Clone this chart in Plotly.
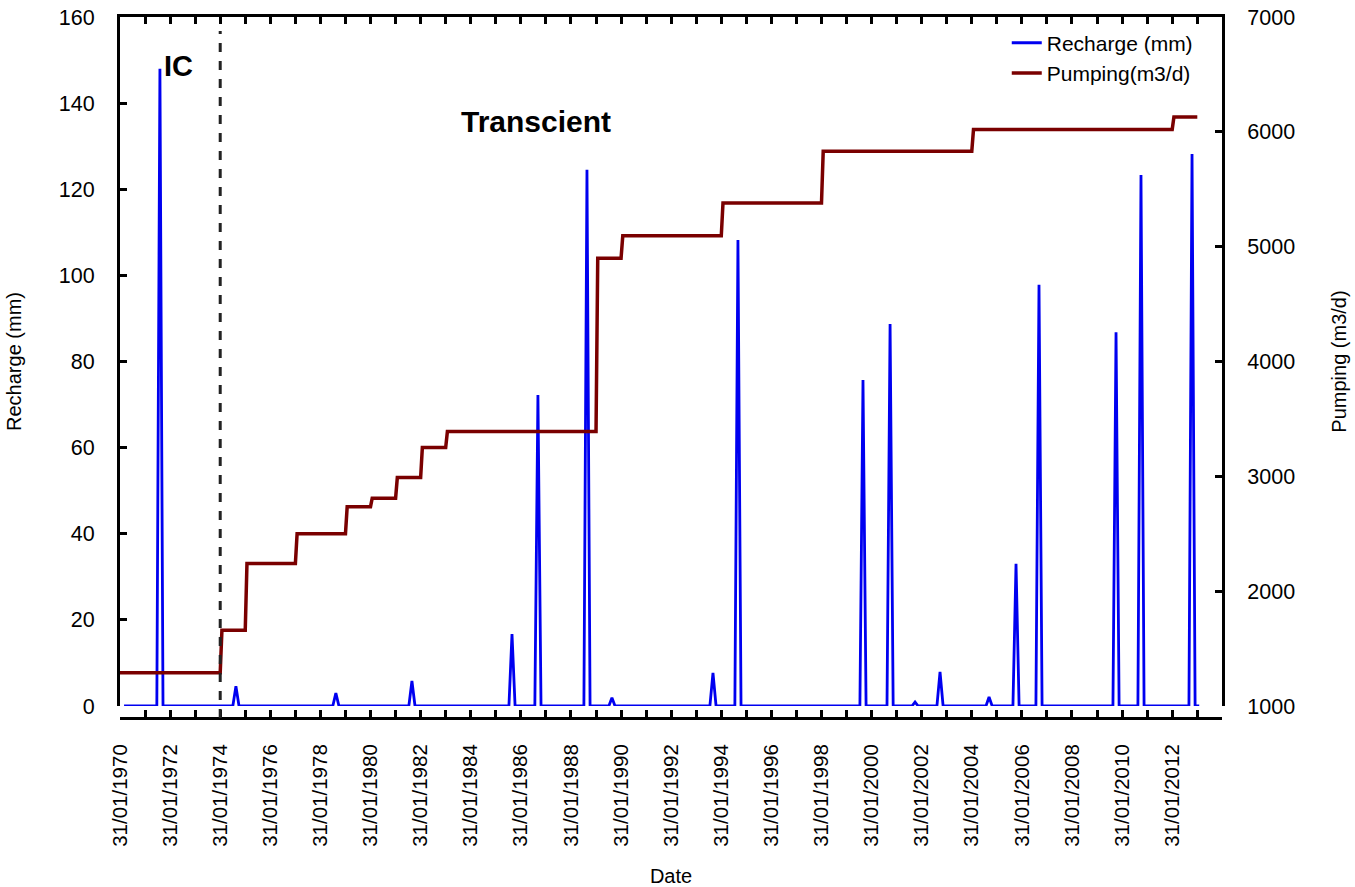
import plotly.graph_objects as go
import pandas as pd

# ---- data ----
rech_start = "1970-03-31"
rech_end = "2013-02-28"
peak_dates = ["1971-09-05", "1974-09-17", "1978-09-13", "1981-09-26", "1985-09-24",
              "1986-10-07", "1988-09-21", "1989-09-20", "1993-10-02", "1994-10-01",
              "1999-09-28", "2000-10-27", "2001-10-26", "2002-10-25", "2004-10-09",
              "2005-11-06", "2006-10-07", "2009-11-03", "2010-11-02", "2012-11-15"]
peak_values = [148.0, 4.6, 3.0, 5.8, 16.7,
               72.2, 124.5, 1.9, 7.7, 108.2,
               75.7, 88.7, 0.9, 7.9, 2.1,
               33.0, 97.8, 86.8, 123.3, 128.2]

pump_dates = ["1970-01-31", "1974-01-31", "1975-01-31", "1977-01-31", "1979-01-31",
              "1980-01-31", "1981-01-31", "1982-01-31", "1983-01-31", "1989-01-31",
              "1990-01-31", "1994-01-31", "1998-01-31", "2004-01-31", "2012-01-31"]
pump_levels = [1290, 1660, 2240, 2500, 2735,
               2810, 2990, 3250, 3390, 4900,
               5095, 5380, 5830, 6020, 6130]
pump_end = "2013-01-31"

# ---- build line coordinates from the arrays ----
rx, ry = [pd.Timestamp(rech_start)], [0.0]
for d, v in zip(peak_dates, peak_values):
    t = pd.Timestamp(d)
    rx += [t - pd.Timedelta(days=45), t, t + pd.Timedelta(days=45)]
    ry += [0.0, v, 0.0]
rx.append(pd.Timestamp(rech_end)); ry.append(0.0)

px_, py_ = [pd.Timestamp(pump_dates[0])], [pump_levels[0]]
for i in range(1, len(pump_dates)):
    t = pd.Timestamp(pump_dates[i])
    px_ += [t, t + pd.Timedelta(days=25)]
    py_ += [pump_levels[i - 1], pump_levels[i]]
px_.append(pd.Timestamp(pump_end)); py_.append(pump_levels[-1])

FONT = "Liberation Sans, Arial, sans-serif"

fig = go.Figure()
fig.add_trace(go.Scatter(x=rx, y=ry, mode="lines", name="Recharge (mm)",
                         line=dict(color="#0000F0", width=2.8)))
fig.add_trace(go.Scatter(x=px_, y=py_, mode="lines", name="Pumping(m3/d)",
                         line=dict(color="#7A0000", width=3.5), yaxis="y2"))
# helper trace so the top frame axis is drawn
fig.add_trace(go.Scatter(x=[pump_dates[0]], y=[None], xaxis="x2", yaxis="y",
                         showlegend=False, hoverinfo="skip", mode="lines"))

tick_common = dict(ticks="inside", ticklen=7, tickwidth=2.5, tickcolor="black",
                   showline=True, linecolor="black", linewidth=3,
                   showgrid=False, zeroline=False, automargin=False)

xr = ["1970-01-31", "2014-01-26"]
fig.update_layout(
    width=1355, height=887,
    margin=dict(l=120, r=133, t=17, b=169),
    paper_bgcolor="white", plot_bgcolor="white",
    font=dict(family=FONT, size=20, color="black"),
    xaxis=dict(type="date", range=xr, anchor="free", position=0,
               tick0="1970-01-31", dtick="M24", tickformat="%d/%m/%Y",
               tickangle=-90, ticklabelstandoff=16, tickfont=dict(size=20.5),
               minor=dict(tick0="1970-01-31", dtick="M12", ticks="inside",
                          ticklen=7, tickwidth=2.5, tickcolor="black"),
               title=dict(text="Date", font=dict(size=20), standoff=32),
               **tick_common),
    xaxis2=dict(type="date", range=xr, overlaying="x", matches="x", side="top",
                anchor="y", showticklabels=False,
                tick0="1970-01-31", dtick="M12", **tick_common),
    yaxis=dict(domain=[12 / 701, 1], range=[0, 160], dtick=20, anchor="x",
               ticklabelstandoff=18, tickfont=dict(size=21.5),
               title=dict(text="Recharge (mm)", font=dict(size=20), standoff=32),
               **tick_common),
    yaxis2=dict(domain=[12 / 701, 1], range=[1000, 7000], dtick=1000,
                overlaying="y", side="right", anchor="x", ticklabelstandoff=18,
                tickfont=dict(size=21.5),
                title=dict(text="Pumping (m3/d)", font=dict(size=20), standoff=38),
                **tick_common),
    legend=dict(x=0.978, xanchor="right", y=0.992, yanchor="top",
                bgcolor="rgba(0,0,0,0)", font=dict(size=21),
                tracegroupgap=0, itemwidth=30),
    showlegend=True,
)

fig.add_shape(type="line", xref="x", yref="paper", x0="1974-01-31", x1="1974-01-31",
              y0=0.0, y1=0.98, line=dict(color="#222222", width=3, dash="dash"))

fig.add_annotation(x="1972-05-26", y=148.6, xref="x", yref="y", text="<b>IC</b>",
                   showarrow=False, font=dict(size=29, color="black"))
fig.add_annotation(x="1986-09-10", y=135.7, xref="x", yref="y", text="<b>Transcient</b>",
                   showarrow=False, font=dict(size=30, color="black"))

fig.write_html("out.html")
